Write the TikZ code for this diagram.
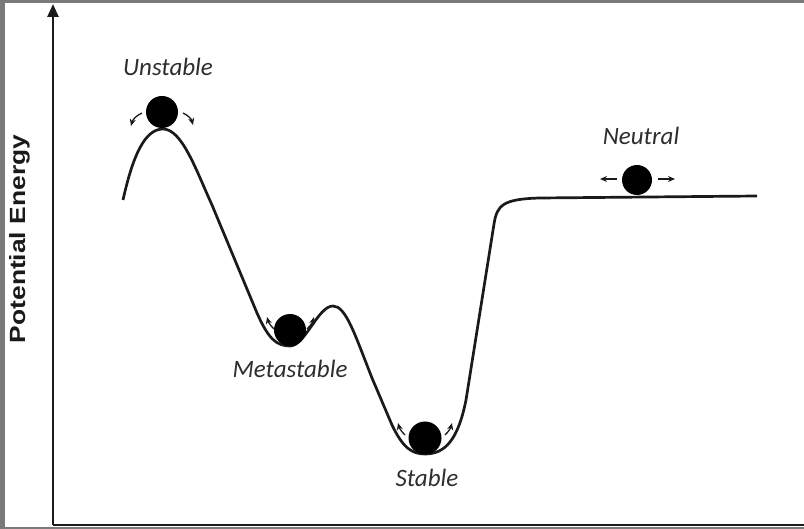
\documentclass[tikz,border=0pt]{standalone}
\usepackage{fontspec}
\setmainfont{Carlito}
\newfontfamily\labelfont{Liberation Sans}
\usetikzlibrary{arrows.meta}
\definecolor{framegray}{HTML}{7A7A7A}
\definecolor{inkc}{HTML}{1A1A1A}
\definecolor{textc}{HTML}{2E2E2E}
\tikzset{
  ball/.style={circle, fill=black, inner sep=0pt, minimum size=32pt},
  statelabel/.style={font=\fontsize{25}{28}\selectfont\itshape, text=textc, anchor=base, inner sep=0pt},
  axisline/.style={line width=2.6pt, draw=inkc},
  wellcurve/.style={line width=2.7pt, draw=inkc, line join=round},
  hint/.style={line width=1.3pt, draw=inkc, -{Stealth[length=7pt,width=6pt]}}
}
\begin{document}
\begin{tikzpicture}[x=1pt,y=-1pt]
\useasboundingbox (0,0) rectangle (804,529);
\fill[framegray] (0,0) rectangle (804,529);
\fill[white] (5,3) rectangle (804,527);
% axes
\coordinate (origin) at (53,525);
\coordinate (ytop) at (53,4);
\coordinate (xend) at (804,525);
\draw[axisline, -{Triangle[length=13pt,width=11pt]}] (origin) -- (ytop);
\draw[axisline] (origin) -- (xend);
\node[rotate=90, anchor=base, inner sep=0pt, font=\labelfont\bfseries\fontsize{22}{24}\selectfont, text=inkc] (ylab) at (25,239) {\scalebox{1.2}[1]{Potential Energy}};
% energy curve
\draw[wellcurve] (123,200) .. controls (133,155) and (145,129) .. (163,129)
  .. controls (182,129) and (196,170) .. (212,205)
  -- (257,313)
  .. controls (268,338) and (276,346) .. (290,346)
  .. controls (305,346) and (318,306) .. (333,306)
  .. controls (346,306) and (355,335) .. (372,378)
  -- (392,425)
  .. controls (403,448) and (412,454) .. (425,454)
  .. controls (445,454) and (458,440) .. (466,400)
  -- (494,224)
  .. controls (497,205) and (503,199) .. (540,198)
  -- (757,196);
% balls
\node[ball] (unstable) at (162,112) {};
\node[ball] (meta) at (290,330) {};
\node[ball, minimum width=31pt, minimum height=33pt] (stable) at (425,438) {};
\node[ball, minimum size=30pt] (neutral) at (637,180) {};
% labels
\node[statelabel] (lunstable) at (168,76) {Unstable};
\node[statelabel] (lmeta) at (290,378) {Metastable};
\node[statelabel] (lstable) at (427,486) {Stable};
\node[statelabel] (lneutral) at (641,145) {Neutral};
% motion hints
\draw[hint] (142,113) to[bend right=25] (131,126);
\draw[hint] (183,113) to[bend left=25] (193,125);
\draw[hint] (274,329) to[bend left=15] (267,317);
\draw[hint] (307,329) to[bend right=15] (314,317);
\draw[hint] (405,435) to[bend left=15] (398,423);
\draw[hint] (445,435) to[bend right=15] (452,423);
\draw[hint] (617,179) -- (600,179);
\draw[hint] (658,179) -- (675,179);
\end{tikzpicture}
\end{document}
